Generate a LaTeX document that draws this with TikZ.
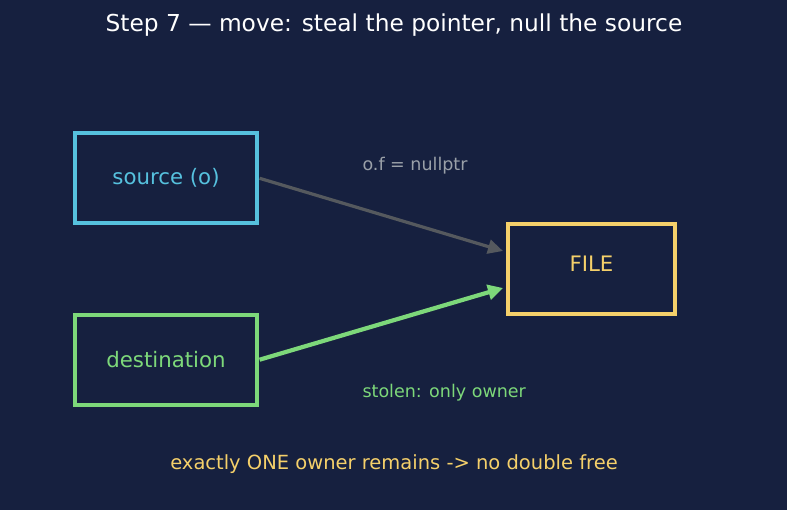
\documentclass[tikz,border=0pt]{standalone}
\usepackage{fontspec}
\setmainfont{DejaVu Sans}
\usetikzlibrary{arrows.meta}
\definecolor{bg}{HTML}{16203F}
\definecolor{cy}{HTML}{56C1DE}
\definecolor{gr}{HTML}{7DD87A}
\definecolor{yl}{HTML}{F5D06A}
\definecolor{ar}{HTML}{55595E}
\definecolor{gt}{HTML}{9AA0A8}
\begin{document}
\begin{tikzpicture}[x=1pt,y=-1pt,
  box/.style={draw, line width=3.2pt, minimum width=182pt, minimum height=90pt, inner sep=0pt, font=\fontsize{21.3}{25}\selectfont},
  lbl/.style={anchor=west, font=\fontsize{17.5}{21}\selectfont}]
\fill[bg] (0,0) rectangle (787,510);
\useasboundingbox (0,0) rectangle (787,510);
\node[white, font=\fontsize{23.3}{27}\selectfont] (title) at (394,25.5) {Step 7 — move: steal the pointer, null the source};
\node[box, cy, text=cy] (src) at (166,178) {source (o)};
\node[box, gr, text=gr] (dst) at (166,360) {destination};
\node[box, yl, minimum width=167pt] (file) at (591.5,269) {};
\node[yl, font=\fontsize{21.3}{25}\selectfont] (filelbl) at (591.5,264) {FILE};
\coordinate (ina) at (503,251);
\coordinate (inb) at (503,288);
\draw[ar, line width=3.2pt, -{Triangle[length=15pt,width=14pt]}, shorten <=1pt] (src.east) -- (ina);
\draw[gr, line width=4.2pt, -{Triangle[length=15pt,width=15pt]}, shorten <=1pt] (dst.east) -- (inb);
\node[lbl, gt] (nul) at (359,165.5) {o.f = nullptr};
\node[lbl, gr] (sto) at (359,392.5) {stolen: only owner};
\node[yl, font=\fontsize{19.5}{23}\selectfont] (foot) at (394,464) {exactly ONE owner remains -> no double free};
\end{tikzpicture}
\end{document}
